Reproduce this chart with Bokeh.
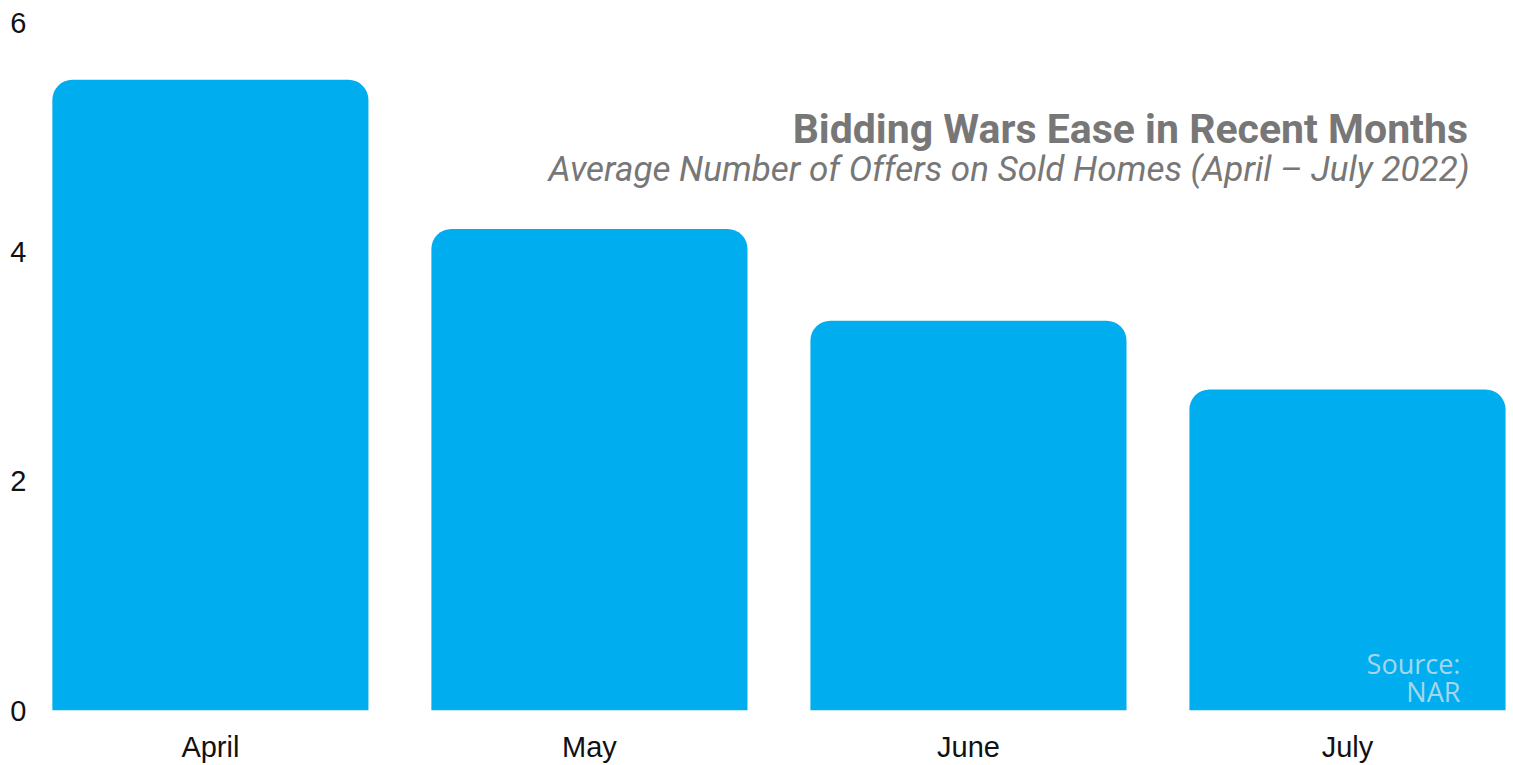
from bokeh.plotting import figure
from bokeh.models import Range1d, FixedTicker, ColumnDataSource, Label
from bokeh.embed import file_html
from bokeh.resources import INLINE

months = ["April", "May", "June", "July"]
offers = [5.5, 4.2, 3.4, 2.8]
y_ticks = [0, 2, 4, 6]
title_text = "Bidding Wars Ease in Recent Months"
subtitle_text = "Average Number of Offers on Sold Homes (April \u2013 July 2022)"
source_lines = ["Source:", "NAR"]

xpos = [i + 0.5 for i in range(len(months))]
src = ColumnDataSource(dict(x=xpos, top=offers, month=months))

p = figure(width=1513, height=765, output_backend="svg", toolbar_location=None,
           x_range=Range1d(0.057, 3.938), y_range=Range1d(0, 6),
           min_border_left=42, min_border_right=0, min_border_top=22, min_border_bottom=53)
p.outline_line_color = None
p.xgrid.visible = False
p.ygrid.visible = False
p.background_fill_color = "white"
p.border_fill_color = "white"

p.vbar(x="x", top="top", width=0.834, bottom=0, source=src,
       fill_color="#00AEEF", line_color=None, border_radius=(20, 20, 0, 0))

p.xaxis.ticker = FixedTicker(ticks=xpos)
p.xaxis.major_label_overrides = {x: m for x, m in zip(xpos, months)}
p.yaxis.ticker = FixedTicker(ticks=y_ticks)
for ax in (p.xaxis, p.yaxis):
    ax.axis_line_color = None
    ax.major_tick_line_color = None
    ax.minor_tick_line_color = None
    ax.major_tick_out = 0
    ax.major_tick_in = 0
    ax.major_label_text_font = "Liberation Sans"
    ax.major_label_text_font_size = "29px"
    ax.major_label_text_color = "#111111"
p.xaxis.major_label_standoff = 20
p.yaxis.major_label_standoff = 16

p.add_layout(Label(x=3.818, y=4.861, text=title_text, text_align="right",
                   text_font="Roboto", text_font_style="bold", text_font_size="41px",
                   text_color="#777777"))
p.add_layout(Label(x=3.822, y=4.535, text=subtitle_text, text_align="right",
                   text_font="Roboto", text_font_style="italic", text_font_size="35px",
                   text_color="#777777"))
p.add_layout(Label(x=3.798, y=0.248, text=source_lines[0], text_align="right",
                   text_font="Open Sans", text_font_size="27px", text_color="#a6d6ec"))
p.add_layout(Label(x=3.798, y=0.004, text=source_lines[1], text_align="right",
                   text_font="Open Sans", text_font_size="27px", text_color="#a6d6ec"))

open("out.html", "w").write(file_html(p, INLINE))
